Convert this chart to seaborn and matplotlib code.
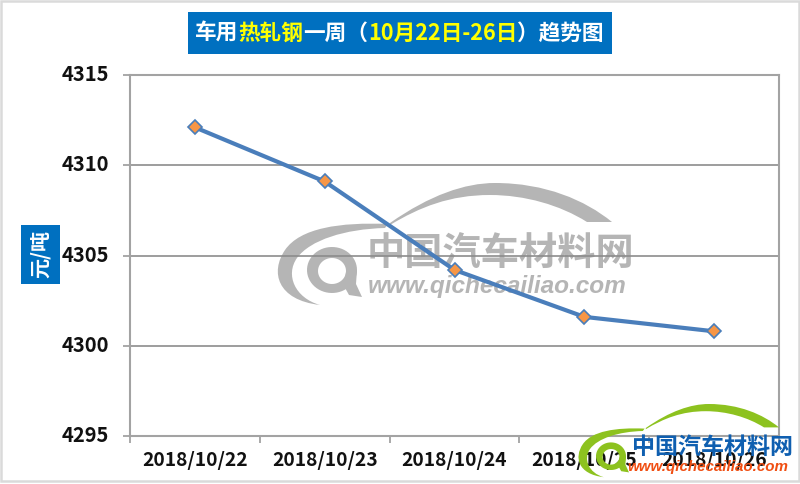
import numpy as np
import pandas as pd
import seaborn as sns
from matplotlib import pyplot as plt
from matplotlib.patches import PathPatch, Polygon, Rectangle
from matplotlib.path import Path
from matplotlib.transforms import ScaledTranslation

dates = ["2018/10/22", "2018/10/23", "2018/10/24", "2018/10/25", "2018/10/26"]
prices = [4312.1, 4309.1, 4304.2, 4301.6, 4300.8]
y_ticks = [4295, 4300, 4305, 4310, 4315]

W, H = 800, 484
BLUE = "#0070C0"
GRID = "#8C8C8C"
SPINE = "#A3A3A3"
LATIN = ["Liberation Sans", "DejaVu Sans"]

sns.set_style("white")
plt.rcParams["font.family"] = ["Noto Sans CJK SC", "DejaVu Sans"]

fig = plt.figure(figsize=(8, 4.84), dpi=100)
# full-figure overlays in pixel coords, for the frame, boxes and watermarks
bg = fig.add_axes([0, 0, 1, 1], zorder=0)
bg.set_xlim(0, W)
bg.set_ylim(H, 0)
bg.axis("off")
ax = fig.add_axes([130 / W, 1 - 436 / H, 649 / W, 361 / H], zorder=2)
ax.patch.set_alpha(0)
fg = fig.add_axes([0, 0, 1, 1], zorder=3)
fg.set_xlim(0, W)
fg.set_ylim(H, 0)
fg.axis("off")


def logo(a, ox, oy, s, color):
    # car logo outline, written in the big grey logo's pixels then moved and scaled
    def px(pts):
        return [(ox + s * (x - 277), oy + s * (y - 183)) for x, y in pts]

    M, C, L, Z = Path.MOVETO, Path.CURVE4, Path.LINETO, Path.CLOSEPOLY
    roof = [(390, 223), (430, 195), (465, 183), (495, 183), (545, 183), (585, 200), (612, 222),
            (587, 222), (560, 205), (525, 195), (490, 195), (450, 195), (420, 207), (390, 225),
            (390, 223)]
    roof_c = [M, C, C, C, C, C, C, L, C, C, C, C, C, C, Z]
    arc = [(388, 224), (340, 222), (300, 228), (285, 250), (270, 272), (277, 300), (320, 305),
           (295, 298), (285, 275), (297, 258), (310, 240), (345, 229), (385, 228), (388, 224)]
    arc_c = [M, C, C, C, C, C, C, C, C, C, C, C, C, Z]
    for pts, codes in [(roof, roof_c), (arc, arc_c)]:
        a.add_patch(PathPatch(Path(px(pts), codes), fc=color, lw=0))
    th = np.linspace(0, 2 * np.pi, 60)
    ring_o = np.c_[332 + 25 * np.cos(th), 270 + 23 * np.sin(th)]
    ring_i = np.c_[332 + 14 * np.cos(th), 271 + 13 * np.sin(th)]
    a.add_patch(Polygon(px(np.r_[ring_o, ring_i[::-1]]), fc=color, lw=0))
    tail = [(346, 272), (357, 270), (356, 284), (362, 297), (349, 295), (344, 286)]
    a.add_patch(Polygon(px(tail), fc=color, lw=0))


# outer image frame
bg.add_patch(Rectangle((0.5, 0.5), 798, 480.5, fc="none", ec="#DADADA", lw=1.8))

# grey watermark in the middle of the plot
logo(bg, 277, 183, 1.0, "#B5B5B5")
bg.text(501, 254, "中国汽车材料网", color="#B5B5B5", fontsize=27.5, fontweight="bold",
        ha="center", va="center")
bg.text(497, 286, "www.qichecailiao.com", color="#B5B5B5", fontsize=17.6, fontweight="bold",
        style="italic", ha="center", va="center", family=LATIN)

df = pd.DataFrame({"date": dates, "price": prices})
sns.lineplot(data=df, x="date", y="price", ax=ax, color="#4A7EBB", linewidth=3,
             marker="D", markersize=7.5, markerfacecolor="#F79646",
             markeredgecolor="#4A7EBB", markeredgewidth=1.2, zorder=5)

ax.set_xlim(-0.5, 4.5)
ax.set_ylim(4295, 4315)
ax.set_yticks(y_ticks)
ax.set_xlabel("")
ax.set_ylabel("")
ax.grid(axis="y", color=GRID, lw=1.2)
ax.set_axisbelow(True)
ax.set_xticks(range(len(dates)))
ax.set_xticklabels(dates)
ax.set_xticks(np.arange(-0.5, 5), minor=True)
ax.tick_params(axis="x", which="major", length=0, pad=10.5, labelsize=13.8, labelcolor="#111111")
ax.tick_params(axis="x", which="minor", bottom=True, length=5, width=1.3, color=SPINE)
ax.tick_params(axis="y", left=True, length=5, width=1.3, color=SPINE, pad=10, labelsize=14.5,
               labelcolor="#111111")
nudge = ScaledTranslation(0, 2.5 / 100, fig.dpi_scale_trans)
for lab in ax.get_xticklabels():
    lab.set_fontweight("bold")
for lab in ax.get_yticklabels():
    lab.set_fontweight("bold")
    lab.set_transform(lab.get_transform() + nudge)
for side, sp in ax.spines.items():
    sp.set_visible(True)
    sp.set_color(SPINE)
    sp.set_linewidth(1.5)

# title box, coloured pieces placed side by side
bg.add_patch(Rectangle((188, 12), 424, 42, fc=BLUE, ec="none"))
pieces = [("车用", "white"), ("热轧钢", "#FFFF00"), ("一周（", "white"),
          ("10月22日-26日", "#FFFF00"), ("）趋势图", "white")]
fig.canvas.draw()
x = 195
for txt, col in pieces:
    t = bg.text(x, 33, txt, color=col, fontsize=15.6, fontweight="bold", ha="left", va="center")
    x = t.get_window_extent().x1 * W / fig.bbox.width

# unit box
bg.add_patch(Rectangle((21, 225), 39, 59, fc=BLUE, ec="none"))
bg.text(40.5, 254.5, "元/吨", color="white", fontsize=14.5, fontweight="bold", rotation=90,
        ha="center", va="center")

# coloured logo bottom right, sits on top of the axis labels
logo(fg, 578, 404, 0.6, "#8DC21F")
fg.text(712, 447, "中国汽车材料网", color="#0F5FB0", fontsize=16.6, fontweight="bold",
        ha="center", va="center")
fg.text(708, 467, "www.qichecailiao.com", color="#F04E12", fontsize=10.9, fontweight="bold",
        style="italic", ha="center", va="center", family=LATIN)

fig.savefig("out.png", dpi=100)
